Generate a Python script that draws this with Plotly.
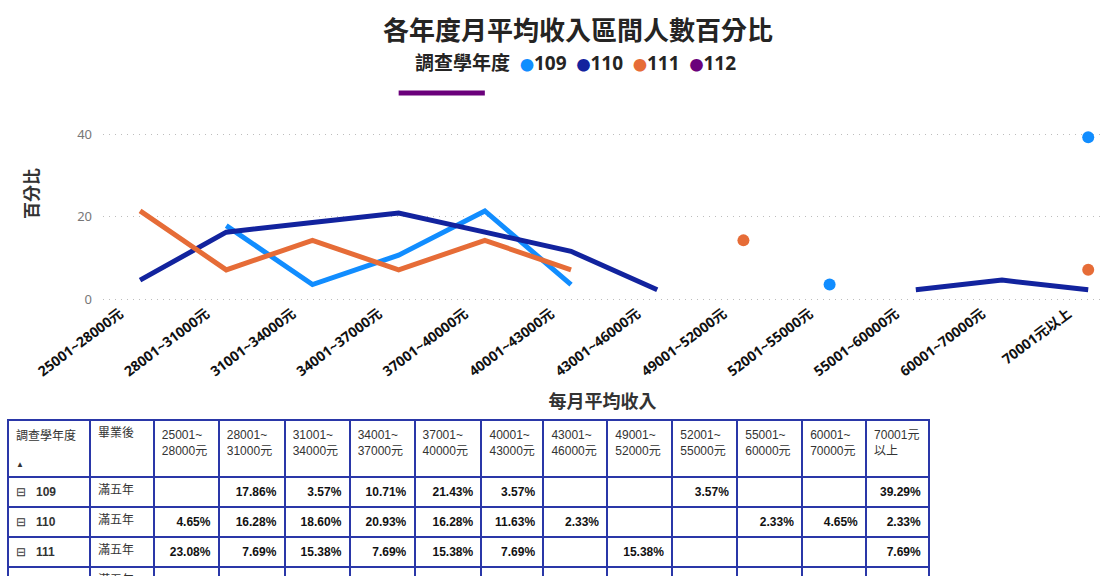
import plotly.graph_objects as go

# ---------------- data ----------------
categories = ['25001~28000元', '28001~31000元', '31001~34000元', '34001~37000元',
              '37001~40000元', '40001~43000元', '43001~46000元', '49001~52000元',
              '52001~55000元', '55001~60000元', '60001~70000元', '70001元以上']
header_labels = ['25001~<br>28000元', '28001~<br>31000元', '31001~<br>34000元', '34001~<br>37000元',
                 '37001~<br>40000元', '40001~<br>43000元', '43001~<br>46000元', '49001~<br>52000元',
                 '52001~<br>55000元', '55001~<br>60000元', '60001~<br>70000元', '70001元<br>以上']
years = ['109', '110', '111', '112']
after_grad = ['滿五年', '滿五年', '滿五年', '滿五年']

# values drawn in the line chart
line_109 = [None, 17.86, 3.57, 10.71, 21.43, 3.57, None, None, 3.57, None, None, 39.29]
line_110 = [4.65, 16.28, 18.60, 20.93, 16.28, 11.63, 2.33, None, None, 2.33, 4.65, 2.33]
line_111 = [21.43, 7.14, 14.29, 7.14, 14.29, 7.14, None, 14.29, None, None, None, 7.14]
line_112 = [None, None, None, 50.00, 50.00, None, None, None, None, None, None, None]

# values shown in the table
tbl_109 = [None, 17.86, 3.57, 10.71, 21.43, 3.57, None, None, 3.57, None, None, 39.29]
tbl_110 = [4.65, 16.28, 18.60, 20.93, 16.28, 11.63, 2.33, None, None, 2.33, 4.65, 2.33]
tbl_111 = [23.08, 7.69, 15.38, 7.69, 15.38, 7.69, None, 15.38, None, None, None, 7.69]
tbl_112 = [None, None, None, 50.00, 50.00, None, None, None, None, None, None, None]

colors = {'109': '#118DFF', '110': '#12239E', '111': '#E66C37', '112': '#6B007B'}

FONT = 'Segoe UI, Noto Sans, Noto Sans CJK TC, sans-serif'
TFONT = 'Liberation Sans, Noto Sans CJK TC, sans-serif'
W, H = 1102, 576
NB = '\u00a0'

fig = go.Figure()


def isolated_sizes(vals, size=12):
    out = []
    n = len(vals)
    for i, v in enumerate(vals):
        if v is None:
            out.append(0)
            continue
        left = vals[i - 1] if i > 0 else None
        right = vals[i + 1] if i < n - 1 else None
        out.append(size if (left is None and right is None) else 0)
    return out


for name, vals in zip(years, [line_109, line_110, line_111, line_112]):
    fig.add_trace(go.Scatter(
        x=categories, y=vals, name=name, mode='lines+markers',
        line=dict(color=colors[name], width=5),
        marker=dict(size=isolated_sizes(vals), color=colors[name], opacity=1,
                    line=dict(width=0)),
        connectgaps=False, cliponaxis=False, showlegend=False,
        xaxis='x', yaxis='y'))

# ---------------- table ----------------
def fmt(v):
    return '' if v is None else '<b>%.2f%%</b>' % v

rows = [tbl_109, tbl_110, tbl_111, tbl_112]
col_values = [
    ['⊟' + NB * 3 + '<b>%s</b>' % y for y in years],
    after_grad,
]
for j in range(len(categories)):
    col_values.append([fmt(r[j]) for r in rows])

header_vals = ["調查學年度<br><span style='font-size:8px;baseline-shift:-11px'>▲</span>",
               '畢業後'] + header_labels
col_widths = [82, 64, 65, 66, 65, 65, 67, 62, 64, 65, 65, 65, 64, 63]
col_font_colors = ['#333333', '#333333'] + ['#111111'] * len(categories)

fig.add_trace(go.Table(
    domain=dict(x=[8 / W, 930 / W], y=[0, 1 - 420 / H]),
    columnwidth=col_widths,
    header=dict(values=header_vals, align='left', height=56,
                font=dict(family=TFONT, size=12, color='#333333'),
                fill=dict(color='white'),
                line=dict(color='#2A37A8', width=2)),
    cells=dict(values=col_values,
               align=['left', 'left'] + ['right'] * len(categories),
               height=28,
               font=dict(family=TFONT, size=12, color=col_font_colors),
               fill=dict(color='white'),
               line=dict(color='#2A37A8', width=2)),
))

# ---------------- layout ----------------
legend_html = "<b>調查學年度</b>" + NB * 2 + (NB * 2).join(
    "<span style='color:%s;font-size:14px'>●</span><b>%s</b>" % (colors[y], y) for y in years)

fig.update_layout(
    width=W, height=H,
    margin=dict(l=0, r=0, t=0, b=0, autoexpand=False),
    paper_bgcolor='white', plot_bgcolor='white',
    font=dict(family=FONT, color='#252423'),
    title=dict(text='<b>各年度月平均收入區間人數百分比</b>', x=578 / W, xanchor='center',
               y=1 - 31 / H, yanchor='middle', yref='container',
               font=dict(size=26, color='#252423', family=FONT)),
    xaxis=dict(domain=[103 / W, 1], type='category', categoryorder='array',
               categoryarray=categories, range=[-0.43, 11.16], automargin=False,
               showgrid=False, zeroline=False, showline=False, ticks='',
               tickangle=-37, ticklabelshift=-20,
               tickfont=dict(size=14, color='#111111', family=FONT, weight='bold'),
               title=dict(text='<b>每月平均收入</b>', font=dict(size=18, color='#333333'),
                          standoff=16)),
    yaxis=dict(domain=[1 - 302 / H, 1 - 85 / H], range=[-0.65, 51.95], automargin=False,
               tickvals=[0, 20, 40], showgrid=True, gridcolor='#BDBDBD',
               griddash='1px,5px', gridwidth=1.3, zeroline=False, showline=False, ticks='',
               ticklabelstandoff=10,
               tickfont=dict(size=13, color='#777777', family=FONT),
               title=dict(text='<b>百分比</b>', font=dict(size=17, color='#333333'),
                          standoff=34)),
    annotations=[dict(text=legend_html, x=575 / W, y=1 - 63 / H, xref='paper', yref='paper',
                      xanchor='center', yanchor='middle', showarrow=False,
                      font=dict(size=19, color='#252423', family=FONT))],
)

fig.write_html("out.html", config={'displayModeBar': False},
               post_script="document.body.style.margin='0';document.body.style.overflow='hidden';")
